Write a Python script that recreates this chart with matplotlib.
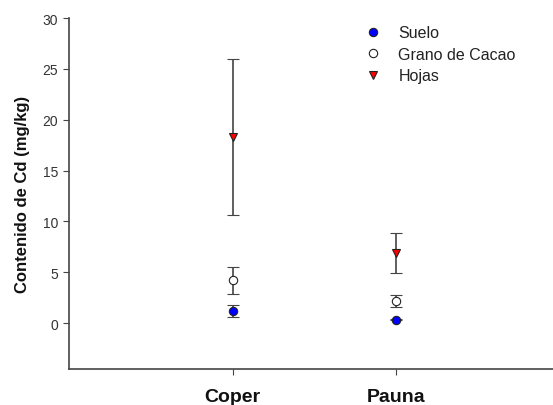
import matplotlib
matplotlib.use('Agg')
import matplotlib.pyplot as plt

plt.rcParams['font.family'] = ['Liberation Sans', 'DejaVu Sans']

sites = ['Coper', 'Pauna']
suelo = [1.2, 0.33]
suelo_err = [0.6, 0.05]
grano = [4.2, 2.2]
grano_err = [1.3, 0.6]
hojas = [18.3, 6.9]
hojas_err = [7.7, 1.95]


def main():
    fig = plt.figure(figsize=(5.53, 4.06), dpi=100)
    ax = fig.add_axes([0.125, 0.089, 0.875, 0.864])
    x = [1, 2]
    ecol = '#444444'
    kw = dict(ls='none', ecolor=ecol, elinewidth=1.2, capsize=4, capthick=1.2,
              markeredgecolor='#222222', markeredgewidth=0.8)
    ax.errorbar(x, suelo, yerr=suelo_err, marker='o', ms=6, mfc='#0000ff',
                label='Suelo', **kw)
    ax.errorbar(x, grano, yerr=grano_err, marker='o', ms=6, mfc='white',
                label='Grano de Cacao', **kw)
    ax.errorbar(x, hojas, yerr=hojas_err, marker='v', ms=6, mfc='#ff0000',
                label='Hojas', **kw)

    ax.set_xlim(0, 2.96)
    ax.set_ylim(-4.5, 30)
    ax.set_yticks(range(0, 31, 5))
    ax.set_xticks(x)
    ax.set_xticklabels(sites, fontsize=14, fontweight='bold', color='#111111')
    ax.tick_params(axis='y', labelsize=10, length=4, color='#444444',
                   labelcolor='#333333', pad=4)
    ax.tick_params(axis='x', length=4, pad=10, color='#444444')
    ax.set_ylabel('Contenido de Cd (mg/kg)', fontsize=12, fontweight='bold',
                  labelpad=9, color='#111111')
    for s in ['top', 'right']:
        ax.spines[s].set_visible(False)
    for s in ['left', 'bottom']:
        ax.spines[s].set_color('#444444')
        ax.spines[s].set_linewidth(1.2)

    handles, labels = ax.get_legend_handles_labels()
    handles = [h[0] for h in handles]
    ax.legend(handles, labels, loc='upper left', bbox_to_anchor=(0.578, 1.02),
              frameon=False, fontsize=11.5, handletextpad=1.0, labelspacing=0.4,
              handlelength=1.2, labelcolor='#222222')
    plt.savefig('out.png', dpi=100)


if __name__ == '__main__':
    main()
